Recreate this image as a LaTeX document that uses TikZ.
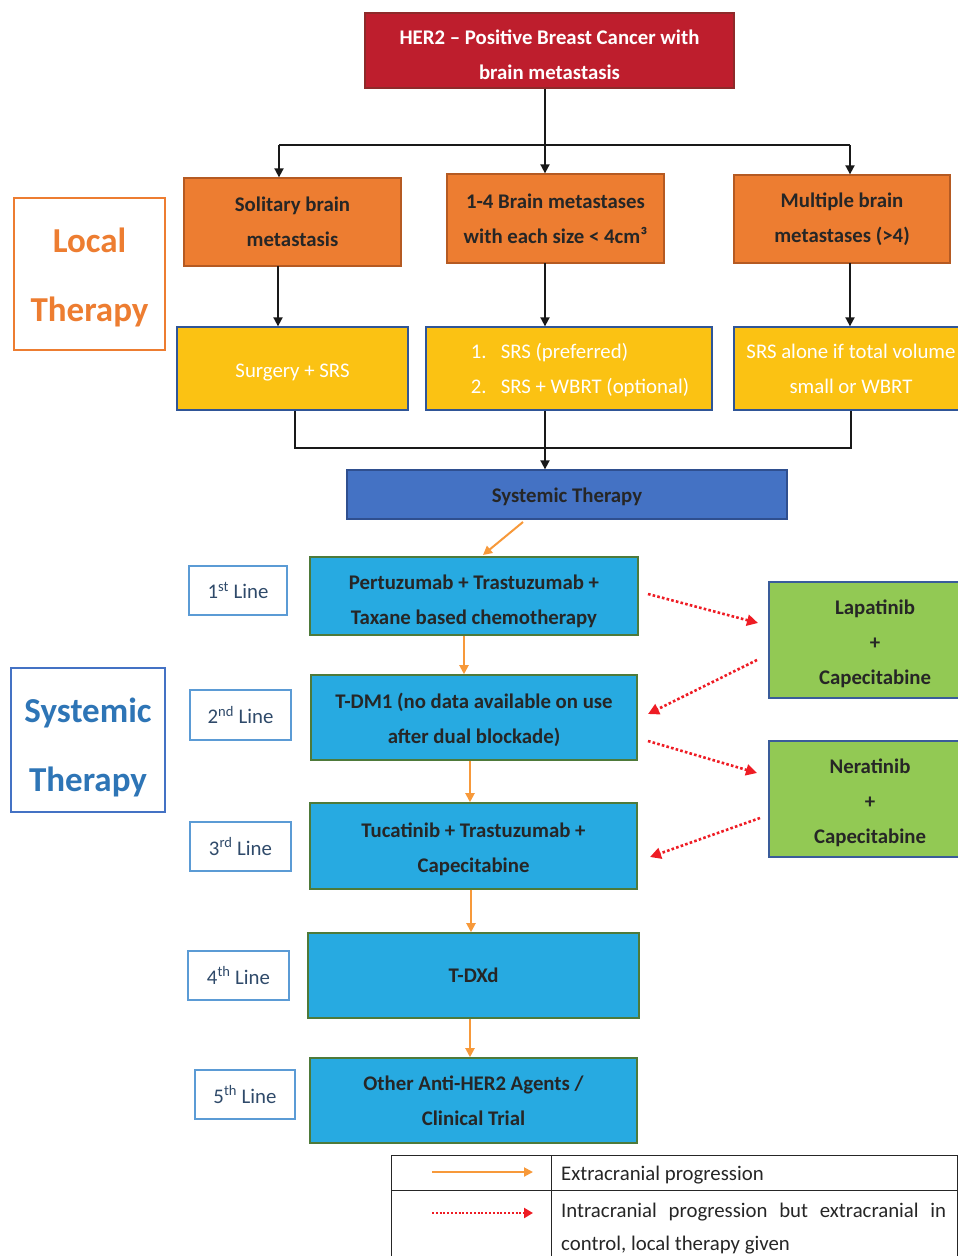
\documentclass[tikz,border=0pt]{standalone}
\usepackage{fontspec}
\setmainfont{Carlito}
\usetikzlibrary{arrows.meta}
\newcommand{\tstrut}[1]{\rule{0pt}{#1}}
\definecolor{cRed}{HTML}{BE1E2D}
\definecolor{cRedB}{HTML}{8E2A2A}
\definecolor{cOrange}{HTML}{ED7D31}
\definecolor{cOrangeB}{HTML}{B55A22}
\definecolor{cYellow}{HTML}{FBC213}
\definecolor{cYellowB}{HTML}{2F5597}
\definecolor{cSys}{HTML}{4472C4}
\definecolor{cSysB}{HTML}{2F4F8F}
\definecolor{cCyan}{HTML}{27AAE1}
\definecolor{cCyanB}{HTML}{4E7A3A}
\definecolor{cGreen}{HTML}{92C954}
\definecolor{cGreenB}{HTML}{3A5C9A}
\definecolor{cDark}{HTML}{262626}
\definecolor{cLabel}{HTML}{2E75B6}
\definecolor{cLineB}{HTML}{5B9BD5}
\definecolor{cLineT}{HTML}{2F4A6A}
\definecolor{cArrO}{HTML}{F7993A}
\definecolor{cArrR}{HTML}{EE1C24}
\begin{document}
\begin{tikzpicture}[x=1pt,y=-1pt,
  box/.style={draw, line width=1.3pt, align=center, inner sep=0pt},
  redbox/.style={box, fill=cRed, draw=cRedB, text=white, font=\fontsize{20.8}{35}\selectfont\bfseries},
  orbox/.style={box, fill=cOrange, draw=cOrangeB, text=cDark, font=\fontsize{20.8}{35}\selectfont\bfseries},
  yebox/.style={box, fill=cYellow, draw=cYellowB, text=white, font=\fontsize{20.8}{35}\selectfont},
  sysbox/.style={box, fill=cSys, draw=cSysB, text=cDark, font=\fontsize{20.8}{35}\selectfont\bfseries},
  cybox/.style={box, fill=cCyan, draw=cCyanB, line width=1.6pt, text=cDark, font=\fontsize{20.8}{35}\selectfont\bfseries},
  grbox/.style={box, fill=cGreen, draw=cGreenB, line width=1.6pt, text=cDark, font=\fontsize{20.8}{35}\selectfont\bfseries},
  linebox/.style={box, draw=cLineB, line width=1.5pt, fill=white, text=cLineT, font=\fontsize{20.8}{24}\selectfont},
  bigbox/.style={box, line width=1.5pt, fill=white, font=\fontsize{35}{69}\selectfont\bfseries},
  blk/.style={line width=1.8pt, draw=black!90},
  blkarr/.style={blk, -{Triangle[length=9pt,width=9pt]}},
  orarr/.style={line width=2pt, draw=cArrO, -{Triangle[length=9pt,width=9pt]}},
  rdarr/.style={line width=2.6pt, draw=cArrR, dash pattern=on 2.6pt off 2.2pt, -{Triangle[length=11pt,width=11pt]}},
  legtext/.style={anchor=base west, inner sep=0pt, text=cDark, font=\fontsize{20.8}{24}\selectfont}
]
\useasboundingbox (0,0) rectangle (958,1256);

% top
\node[redbox, minimum width=369pt, minimum height=75pt] (her) at (549.5,50.5) {\tstrut{23pt}HER2 -- Positive Breast Cancer with\\brain metastasis};

\node[orbox, minimum width=217pt, minimum height=88pt] (sol) at (292.5,222) {Solitary brain\\metastasis};
\node[orbox, minimum width=217pt, minimum height=89pt] (few) at (555.5,218.5) {1-4 Brain metastases\\with each size < 4cm³};
\node[orbox, minimum width=216pt, minimum height=88pt] (mul) at (842,219) {Multiple brain\\metastases (>4)};

\node[yebox, minimum width=231pt, minimum height=83pt] (sur) at (292.5,368.5) {\tstrut{21pt}Surgery + SRS};
\node[yebox, minimum width=286pt, minimum height=83pt] (srs) at (569,368.5) {};
\node[align=left, inner sep=0pt, text=white, font=\fontsize{20.8}{35}\selectfont] (srst) at (580,370.5) {\makebox[30pt][l]{1.}SRS (preferred)\\\makebox[30pt][l]{2.}SRS + WBRT (optional)};
\node[yebox, minimum width=234pt, minimum height=83pt] (alo) at (851,368.5) {SRS alone if total volume\\small or WBRT};

\node[sysbox, minimum width=440pt, minimum height=49pt] (sys) at (567,494.5) {\tstrut{19pt}Systemic Therapy};

% labels
\node[bigbox, draw=cOrange, text=cOrange, minimum width=151pt, minimum height=152pt] (loc) at (89.5,274) {\tstrut{31pt}Local\\Therapy};
\node[bigbox, draw=cSys, text=cLabel, minimum width=154pt, minimum height=144pt] (sysl) at (88,740) {\tstrut{39pt}Systemic\\Therapy};

\node[linebox, minimum width=98pt, minimum height=49pt] (l1) at (238,590.5) {1\textsuperscript{st} Line};
\node[linebox, minimum width=101pt, minimum height=50pt] (l2) at (240.5,715) {2\textsuperscript{nd} Line};
\node[linebox, minimum width=101pt, minimum height=49pt] (l3) at (240.5,846.5) {3\textsuperscript{rd} Line};
\node[linebox, minimum width=101pt, minimum height=49pt] (l4) at (238.5,975.5) {4\textsuperscript{th} Line};
\node[linebox, minimum width=100pt, minimum height=49pt] (l5) at (245,1094.5) {5\textsuperscript{th} Line};

% cyan boxes
\node[cybox, minimum width=328pt, minimum height=78pt] (b1) at (474,596) {\tstrut{25pt}Pertuzumab + Trastuzumab +\\Taxane based chemotherapy};
\node[cybox, minimum width=326pt, minimum height=85pt] (b2) at (474,717.5) {\tstrut{20pt}T-DM1 (no data available on use\\after dual blockade)};
\node[cybox, minimum width=327pt, minimum height=86pt] (b3) at (473.5,846) {\tstrut{21pt}Tucatinib + Trastuzumab +\\Capecitabine};
\node[cybox, minimum width=331pt, minimum height=85pt] (b4) at (473.5,975.5) {T-DXd};
\node[cybox, minimum width=327pt, minimum height=85pt] (b5) at (473.5,1100.5) {Other Anti-HER2 Agents /\\Clinical Trial};

% green boxes
\node[grbox, minimum width=212pt, minimum height=116pt] (lap) at (875,640) {\tstrut{23pt}Lapatinib\\+\\Capecitabine};
\node[grbox, minimum width=202pt, minimum height=116pt] (ner) at (870,799) {\tstrut{23pt}Neratinib\\+\\Capecitabine};

% black tree connectors
\coordinate (j0) at (545,145);
\coordinate (jl) at (279,145);
\coordinate (jr) at (850,145);
\draw[blk] (her.south -| j0) -- (j0);
\draw[blk] (jl) -- (jr);
\draw[blkarr] (jl) -- (jl |- sol.north);
\draw[blkarr] (j0) -- (j0 |- few.north);
\draw[blkarr] (jr) -- (jr |- mul.north);

\coordinate (c1) at (278,266);
\coordinate (c2) at (545,263);
\coordinate (c3) at (850,263);
\draw[blkarr] (c1) -- (c1 |- sur.north);
\draw[blkarr] (c2) -- (c2 |- srs.north);
\draw[blkarr] (c3) -- (c3 |- alo.north);

\coordinate (m1) at (295,448);
\coordinate (m2) at (545,448);
\coordinate (m3) at (851,448);
\draw[blk] (sur.south -| m1) -- (m1) -- (m3) -- (alo.south -| m3);
\draw[blk] (srs.south -| m2) -- (m2);
\draw[blkarr] (m2) -- (m2 |- sys.north);

% orange progression arrows
\coordinate (s0) at (523,522);
\coordinate (s1) at (483,555);
\draw[orarr] (s0) -- (s1);
\coordinate (o1) at (464,0);
\coordinate (o2) at (470,0);
\coordinate (o3) at (471,0);
\coordinate (o4) at (470,0);
\draw[orarr] (b1.south -| o1) -- (b2.north -| o1);
\draw[orarr] (b2.south -| o2) -- (b3.north -| o2);
\draw[orarr] (b3.south -| o3) -- (b4.north -| o3);
\draw[orarr] (b4.south -| o4) -- (b5.north -| o4);

% red dotted arrows
\coordinate (r1a) at (648,594); \coordinate (r1b) at (758,623);
\coordinate (r2a) at (757,660); \coordinate (r2b) at (648,714);
\coordinate (r3a) at (648,741); \coordinate (r3b) at (757,773);
\coordinate (r4a) at (760,818); \coordinate (r4b) at (650,857);
\draw[rdarr] (r1a) -- (r1b);
\draw[rdarr] (r2a) -- (r2b);
\draw[rdarr] (r3a) -- (r3b);
\draw[rdarr] (r4a) -- (r4b);

% legend
\draw[line width=1pt, draw=cDark] (391,1256) -- (391,1155) -- (957,1155) -- (957,1256);
\draw[line width=1pt, draw=cDark] (391,1190) -- (957,1190);
\draw[line width=1pt, draw=cDark] (551,1155) -- (551,1256);
\coordinate (la) at (432,1172); \coordinate (lb) at (533,1172);
\coordinate (lc) at (432,1213); \coordinate (ld) at (533,1213);
\draw[line width=2pt, draw=cArrO, -{Triangle[length=9pt,width=9pt]}] (la) -- (lb);
\draw[line width=2.4pt, draw=cArrR, dash pattern=on 2pt off 1.8pt, -{Triangle[length=9pt,width=10pt]}] (lc) -- (ld);
\node[legtext] (t1) at (561,1180) {Extracranial progression};
\node[legtext] (t2) at (561,1217) {\hbox to 385pt{Intracranial\hfill progression\hfill but\hfill extracranial\hfill in}};
\node[legtext] (t3) at (561,1250) {control, local therapy given};
\end{tikzpicture}
\end{document}
